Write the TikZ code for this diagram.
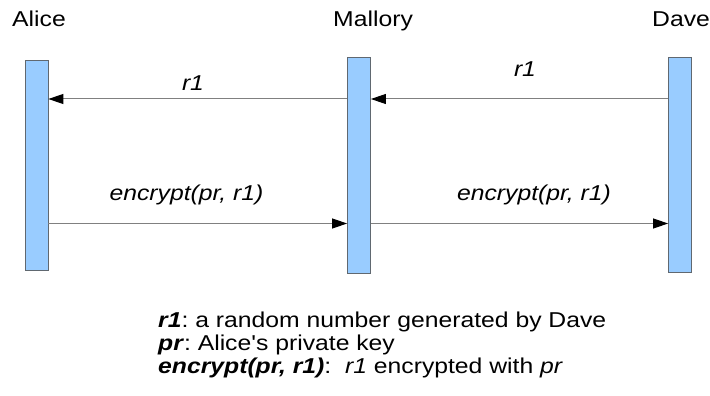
\documentclass[tikz,border=0pt]{standalone}
\usepackage{fontspec}
\usepackage{graphicx}
\setmainfont{Liberation Sans}
\usetikzlibrary{arrows.meta}
\definecolor{barblue}{HTML}{99CCFF}
\definecolor{bardraw}{HTML}{606870}
\definecolor{msgline}{HTML}{808080}
\newcommand{\wt}[1]{\scalebox{1.15}[1]{#1}}
\tikzset{
  lifebar/.style={draw=bardraw, fill=barblue, line width=0.8pt, minimum width=23pt, inner sep=0pt},
  msg/.style={draw=msgline, line width=1pt, -{Triangle[length=15pt,width=10pt,color=black]}},
  txt/.style={inner sep=0pt, font=\fontsize{21.5}{23}\selectfont\frenchspacing},
}
\begin{document}
\begin{tikzpicture}[x=1pt,y=-1pt]
\useasboundingbox (0,0) rectangle (710,396);
% lifelines
\node[lifebar, minimum height=210pt] (A) at (36.5,165) {};
\node[lifebar, minimum height=216pt] (M) at (359,165) {};
\node[lifebar, minimum height=215pt] (D) at (680,164.5) {};
% names
\node[txt, anchor=base west] (nA) at (12,27) {\wt{Alice}};
\node[txt, anchor=base west] (nM) at (333,27) {\wt{Mallory}};
\node[txt, anchor=base west] (nD) at (652,27) {\wt{Dave}};
% message rows
\coordinate (row1) at (0,99);
\coordinate (row2) at (0,223.5);
\draw[msg] (M.west |- row1) -- (A.east |- row1);
\draw[msg] (D.west |- row1) -- (M.east |- row1);
\draw[msg] (A.east |- row2) -- (M.west |- row2);
\draw[msg] (M.east |- row2) -- (D.west |- row2);
% message labels
\node[txt, anchor=base] (l1) at (193,91) {\wt{\itshape r1}};
\node[txt, anchor=base] (l2) at (525,77) {\wt{\itshape r1}};
\node[txt, anchor=base] (l3) at (186.5,200) {\wt{\itshape encrypt(pr, r1)}};
\node[txt, anchor=base] (l4) at (534,200) {\wt{\itshape encrypt(pr, r1)}};
% legend
\node[txt, anchor=base west] (g1) at (158,327) {\wt{\textbf{\itshape r1}: a random number generated by Dave}};
\node[txt, anchor=base west] (g2) at (158,350) {\wt{\textbf{\itshape pr}: Alice\textquotesingle s private key}};
\node[txt, anchor=base west] (g3) at (158,373) {\wt{\textbf{\itshape encrypt(pr, r1)}:\ \ {\itshape r1} encrypted with {\itshape pr}}};
\end{tikzpicture}
\end{document}
